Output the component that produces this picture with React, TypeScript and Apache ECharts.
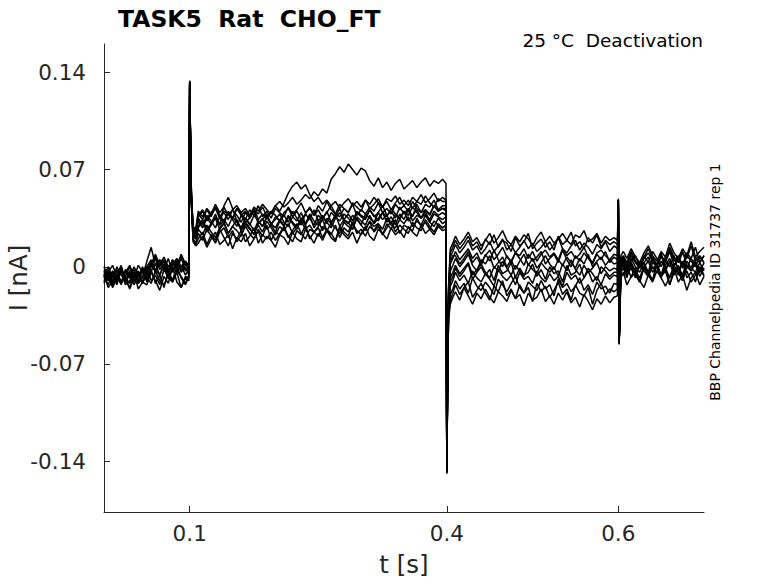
import React, { useEffect, useRef } from "react";
import * as echarts from "echarts";

// Sample times (ms) shared by all sweeps
const TIME_MS = [
  0, 5, 10, 15, 20, 25, 30, 35, 40, 45, 50, 55, 60, 65, 70, 75, 80, 85, 90, 95, 99,
  100, 101, 102, 104, 107,
  110, 115, 120, 125, 130, 135, 140, 145, 150, 155, 160, 165, 170, 175, 180, 185, 190, 195, 200, 205,
  210, 215, 220, 225, 230, 235, 240, 245, 250, 255, 260, 265, 270, 275, 280, 285, 290, 295, 300, 305,
  310, 315, 320, 325, 330, 335, 340, 345, 350, 355, 360, 365, 370, 375, 380, 385, 390, 395, 399,
  400, 401, 402, 404, 407,
  410, 415, 420, 425, 430, 435, 440, 445, 450, 455, 460, 465, 470, 475, 480, 485, 490, 495, 500, 505,
  510, 515, 520, 525, 530, 535, 540, 545, 550, 555, 560, 565, 570, 575, 580, 585, 590, 595, 599,
  600, 601, 603,
  606, 610, 615, 620, 625, 630, 635, 640, 645, 650, 655, 660, 665, 670, 675, 680, 685, 690, 695, 700,
];

// Current sweeps in pA
const SWEEP_1 = [
  -6, -15, -10, -2, -12, -7, -16, -8, -3, -11, -13, -4, -10, -17, -7, -12, 0, -11, -15, -8, -10,
  131, 82, 44, 18, 15,
  17, 22, 14, 20, 25, 16, 19, 23, 13, 21, 18, 24, 15, 20, 26, 17, 22, 19, 14, 23,
  21, 16, 25, 20, 18, 27, 22, 17, 24, 19, 26, 21, 18, 28, 23, 20, 25, 17, 24, 29,
  22, 19, 27, 24, 20, 28, 23, 26, 21, 29, 25, 22, 30, 24, 27, 23, 29, 26, 27,
  -148, -75, -38, -27, -22,
  -18, -24, -15, -21, -27, -19, -23, -16, -22, -26, -18, -21, -25, -17, -23, -20, -28, -19, -24, -22,
  -16, -25, -21, -27, -19, -24, -18, -26, -22, -29, -20, -25, -31, -23, -27, -21, -26, -22, -21,
  48, -55, -8,
  -4, -13, -7, -1, -10, -15, -6, -11, -3, -8, -14, -7, -1, -11, -6, -17, -8, -4, -13, -7,
];
const SWEEP_2 = [
  -11, -4, -13, -7, 0, -10, -15, -6, -11, -2, -8, -12, -3, -10, -13, -6, -11, -4, -15, -7, -8,
  133, 84, 46, 20, 17,
  24, 19, 27, 22, 17, 25, 28, 21, 26, 18, 23, 29, 24, 20, 27, 22, 30, 19, 25, 23,
  28, 21, 26, 31, 24, 20, 27, 25, 22, 29, 26, 23, 30, 21, 28, 25, 32, 24, 27, 22,
  29, 26, 31, 23, 28, 33, 25, 30, 27, 24, 32, 28, 26, 34, 29, 25, 31, 28, 30,
  -147, -73, -34, -20, -16,
  -10, -16, -12, -19, -8, -14, -17, -11, -15, -20, -9, -13, -18, -12, -7, -15, -19, -11, -14, -17,
  -10, -16, -13, -21, -9, -15, -12, -18, -14, -8, -17, -13, -20, -11, -16, -14, -19, -12, -13,
  47, -54, -4,
  -1, -8, 3, -6, -11, 0, -4, -10, 1, -7, -3, -13, -1, -6, 4, -8, -4, -11, 0, -6,
];
const SWEEP_3 = [
  -7, -2, -11, -6, -13, -3, -8, -4, -12, -7, 0, -10, -6, -13, -2, -8, -11, -3, -7, -12, -6,
  132, 86, 49, 23, 20,
  27, 23, 30, 25, 21, 28, 32, 24, 29, 26, 22, 31, 27, 24, 30, 25, 33, 28, 23, 29,
  26, 31, 24, 28, 33, 27, 30, 25, 29, 34, 26, 31, 28, 24, 32, 29, 27, 35, 30, 26,
  33, 29, 31, 27, 35, 30, 28, 34, 31, 36, 29, 33, 30, 37, 32, 29, 35, 31, 33,
  -148, -72, -31, -14, -10,
  -4, -10, -6, -12, -3, -8, -11, -5, -9, -14, -2, -7, -10, -6, -13, -4, -9, -7, -12, -3,
  -8, -11, -5, -10, -7, -14, -4, -9, -6, -12, -8, -3, -11, -7, -13, -5, -9, -6, -7,
  48, -55, -2,
  1, -6, -1, -8, 3, -3, -7, 0, -4, 4, -1, -8, 1, -4, -10, 0, -3, 3, -7, -1,
];
const SWEEP_4 = [
  -4, -10, -3, -7, -12, -2, -6, -11, -4, -8, 4, 14, 1, 5, -2, 6, -4, 2, 7, -3, 0,
  133, 88, 52, 26, 24,
  29, 34, 27, 31, 36, 30, 44, 50, 42, 33, 28, 35, 31, 26, 33, 29, 36, 31, 28, 34,
  30, 37, 32, 29, 35, 31, 38, 33, 30, 36, 32, 28, 35, 39, 33, 31, 37, 34, 30, 38,
  35, 32, 39, 34, 37, 31, 38, 35, 40, 33, 37, 41, 35, 38, 34, 40, 37, 39, 37,
  -149, -70, -28, -8, -4,
  1, -5, -1, 3, -6, -2, 2, -4, -8, 0, -3, 4, -1, -6, 1, -3, -7, 2, -2, -5,
  3, -1, -4, 0, -7, 2, -3, 5, -2, -6, 1, -4, -1, 3, -5, 0, -3, -1, -2,
  49, -56, 0,
  3, -4, 1, -7, 4, -1, -6, 3, 0, -8, 1, 6, -3, 0, -6, 4, -1, -4, 3, -3,
];
const SWEEP_5 = [
  -8, -3, -12, -6, 1, -10, -4, -13, -7, -2, -6, 2, -4, 5, 0, -7, 4, -3, 1, -6, -2,
  131, 85, 47, 24, 22,
  33, 28, 35, 31, 38, 30, 34, 29, 36, 32, 27, 35, 30, 37, 33, 29, 36, 31, 34, 38,
  32, 29, 36, 33, 39, 31, 35, 30, 37, 34, 40, 32, 36, 33, 38, 35, 31, 39, 36, 34,
  41, 37, 33, 39, 36, 42, 38, 34, 40, 37, 43, 39, 35, 41, 38, 44, 40, 42, 40,
  -148, -69, -25, -3, 1,
  6, 0, 4, 9, 1, -3, 5, 2, 8, -1, 3, 7, 0, 5, -2, 4, 9, 1, 6, -1,
  3, 8, 2, -2, 5, 1, 7, 3, -1, 6, 2, 9, 0, 4, 7, 1, 5, 2, 3,
  48, -55, 2,
  4, -3, 6, 0, -4, 3, 7, -1, 1, -6, 4, 0, 8, -3, 3, -1, 6, 1, -4, 3,
];
const SWEEP_6 = [
  -2, -7, -11, 0, -6, -10, -3, -8, 1, -4, -10, 0, 6, -2, 2, -4, 1, 5, -3, 4, 0,
  134, 87, 50, 27, 25,
  36, 40, 33, 38, 42, 35, 39, 34, 41, 37, 32, 39, 36, 42, 34, 38, 35, 40, 37, 33,
  39, 42, 36, 40, 34, 38, 43, 37, 41, 35, 39, 44, 38, 36, 42, 39, 45, 37, 41, 38,
  43, 40, 46, 39, 42, 38, 45, 41, 44, 40, 47, 42, 39, 45, 43, 48, 41, 44, 44,
  -147, -68, -22, 2, 6,
  11, 5, 9, 13, 6, 10, 3, 8, 12, 5, 9, 14, 7, 4, 10, 8, 13, 6, 11, 4,
  9, 12, 7, 10, 5, 13, 8, 11, 6, 9, 14, 7, 3, 10, 12, 8, 5, 9, 8,
  47, -54, 4,
  7, 1, 8, 3, -1, 6, 10, 4, 0, 7, 3, 11, 1, 6, -1, 8, 4, 0, 7, 3,
];
const SWEEP_7 = [
  -6, 0, -8, -3, -11, -4, 1, -7, -10, -2, 0, 5, -3, 2, 7, 0, 4, -2, 6, 1, 2,
  132, 86, 48, 25, 23,
  37, 41, 35, 39, 43, 36, 40, 38, 34, 42, 37, 40, 35, 41, 38, 43, 36, 39, 44, 40,
  46, 53, 58, 61, 56, 59, 52, 47, 50, 45, 48, 44, 47, 42, 46, 49, 44, 47, 43, 48,
  45, 50, 46, 43, 49, 47, 51, 45, 48, 44, 50, 47, 52, 46, 49, 53, 47, 50, 48,
  -146, -66, -18, 7, 11,
  16, 10, 14, 19, 12, 15, 9, 13, 18, 11, 15, 20, 12, 16, 10, 14, 19, 13, 17, 11,
  14, 18, 12, 16, 21, 13, 10, 15, 19, 12, 17, 14, 9, 16, 13, 18, 11, 15, 13,
  48, -54, 6,
  8, 3, 11, 4, 0, 7, 13, 6, 1, 8, 4, 14, 7, 3, 10, 6, 15, 4, 8, 3,
];
const SWEEP_8 = [
  -10, -4, 1, -7, -12, -3, -8, 0, -6, -11, -4, 1, 7, 0, 4, -3, 5, 0, 9, 2, -2,
  133, 89, 53, 29, 27,
  40, 36, 42, 38, 45, 39, 43, 37, 41, 44, 39, 42, 37, 43, 40, 45, 41, 38, 44, 47,
  43, 46, 50, 45, 48, 52, 49, 54, 51, 56, 53, 63, 67, 72, 68, 74, 70, 66, 71, 69,
  62, 58, 64, 57, 61, 55, 60, 63, 56, 59, 62, 57, 61, 64, 58, 62, 60, 63, 60,
  -145, -64, -14, 13, 17,
  22, 16, 20, 25, 18, 21, 15, 19, 24, 17, 21, 26, 19, 16, 22, 18, 23, 20, 15, 21,
  25, 18, 22, 17, 20, 24, 19, 16, 23, 21, 26, 18, 20, 24, 17, 22, 19, 21, 19,
  48, -55, 8,
  11, 6, 13, 7, 3, 10, 15, 8, 4, 11, 7, 17, 10, 6, 13, 8, 18, 7, 11, 14,
];
const SWEEP_9 = [
  -12, -6, -15, -8, -3, -13, -10, -4, -16, -11, -7, -2, -12, -6, -15, -3, -10, 1, -8, -13, -7,
  132, 83, 45, 19, 16,
  20, 25, 16, 23, 19, 27, 21, 15, 24, 20, 26, 18, 22, 28, 17, 23, 20, 25, 19, 24,
  29, 22, 18, 26, 23, 30, 20, 25, 28, 21, 27, 24, 19, 29, 25, 22, 31, 26, 23, 28,
  32, 25, 29, 23, 31, 27, 34, 24, 30, 28, 26, 35, 29, 32, 27, 33, 30, 28, 30,
  -148, -74, -36, -24, -19,
  -13, -20, -15, -11, -22, -17, -12, -19, -24, -14, -18, -10, -21, -16, -23, -13, -19, -15, -25, -12,
  -18, -14, -22, -17, -11, -20, -16, -24, -13, -19, -21, -15, -27, -17, -12, -20, -16, -18, -16,
  48, -55, -6,
  -6, 1, -8, -3, -11, 0, -4, -10, 3, -7, -1, -13, -4, 1, -8, -3, -11, -6, 0, -7,
];
const SWEEP_10 = [
  -3, -10, -6, -13, -2, -8, -12, -4, -7, 0, -11, -3, 2, -6, 1, -7, -2, 4, -4, 0, -6,
  133, 85, 48, 22, 20,
  28, 33, 25, 30, 35, 27, 31, 24, 29, 34, 26, 32, 28, 23, 31, 35, 27, 30, 25, 33,
  29, 36, 31, 27, 34, 30, 37, 28, 33, 26, 35, 31, 38, 29, 34, 32, 27, 36, 33, 30,
  37, 31, 35, 39, 32, 36, 30, 38, 34, 41, 33, 37, 35, 40, 32, 38, 36, 34, 36,
  -148, -71, -29, -11, -7,
  -1, -7, -3, 2, -9, -4, 0, -6, -2, -10, 1, -5, -3, 3, -8, -1, -6, -4, 2, -7,
  -2, -9, 0, -5, -3, -11, 1, -6, -4, 2, -8, -1, -5, -10, 0, -3, -7, -4, -4,
  48, -55, 1,
  6, -1, 4, 8, 0, 3, -4, 7, 1, 10, -3, 4, 0, 6, 11, 1, -1, 7, 3, 8,
];
const SWEEP_11 = [
  -7, -13, -4, -10, 0, -11, -6, -2, -12, -8, -3, 4, -2, -6, 2, -3, 5, -4, 1, -2, -3,
  132, 87, 50, 25, 23,
  35, 30, 37, 33, 28, 36, 31, 39, 34, 29, 37, 32, 35, 40, 31, 34, 38, 30, 36, 33,
  37, 32, 40, 35, 30, 38, 34, 41, 33, 37, 31, 39, 36, 42, 34, 38, 33, 40, 37, 35,
  41, 36, 39, 44, 37, 40, 35, 43, 38, 42, 36, 45, 39, 41, 37, 44, 40, 42, 42,
  -147, -67, -20, 4, 8,
  8, 2, 6, 11, 3, 7, 1, 9, 4, 12, 5, 0, 8, 3, 10, 6, 1, 9, 4, 7,
  11, 2, 6, 9, 3, 12, 5, 0, 8, 4, 10, 6, 2, 9, 5, 11, 3, 7, 5,
  47, -54, 1,
  1, -6, 3, -3, -8, 0, 4, -4, 1, -7, -1, 3, -6, 0, -10, 1, -3, 4, -4, -1,
];
const SWEEP_12 = [
  0, -8, -4, -11, -3, -7, 0, -10, -6, -12, -2, 2, 9, 1, 5, -2, 2, 6, 0, 4, 1,
  134, 88, 51, 27, 26,
  38, 34, 41, 36, 43, 37, 33, 40, 35, 42, 38, 34, 41, 37, 44, 36, 40, 35, 42, 39,
  36, 43, 38, 41, 46, 39, 42, 37, 44, 40, 47, 41, 38, 45, 42, 39, 46, 43, 40, 48,
  42, 45, 49, 43, 47, 41, 46, 50, 44, 48, 42, 47, 45, 51, 46, 43, 49, 47, 47,
  -146, -65, -16, 10, 14,
  19, 13, 17, 22, 15, 18, 12, 20, 16, 23, 14, 19, 17, 11, 21, 15, 18, 24, 13, 17,
  20, 14, 18, 12, 22, 16, 19, 25, 15, 18, 13, 21, 17, 23, 14, 19, 16, 18, 16,
  48, -55, 5,
  7, 1, 10, 4, -1, 8, 3, 11, 6, 0, 7, 13, 4, 8, 1, 10, 6, 14, 3, 8,
];

const SWEEPS = [
  SWEEP_1, SWEEP_2, SWEEP_3, SWEEP_4, SWEEP_5, SWEEP_6,
  SWEEP_7, SWEEP_8, SWEEP_9, SWEEP_10, SWEEP_11, SWEEP_12,
];

const X_TICKS = [0.1, 0.4, 0.6];
const Y_TICKS = [-0.14, -0.07, 0, 0.07, 0.14];

const TITLE = "TASK5  Rat  CHO_FT";
const SUBTITLE = "25 °C  Deactivation";
const SIDE_NOTE = "BBP Channelpedia ID 31737 rep 1";
const X_NAME = "t [s]";
const Y_NAME = "I [nA]";

const FONT = '"DejaVu Sans", "Liberation Sans", sans-serif';
const AXIS_COLOR = "#262626";

export default function App() {
  const ref = useRef<HTMLDivElement>(null);

  useEffect(() => {
    document.body.style.margin = "0";
    if (!ref.current) return;
    const chart = echarts.init(ref.current, null, { renderer: "svg" });

    const series = SWEEPS.map((sw, k) => ({
      type: "line",
      name: "sweep " + (k + 1),
      data: TIME_MS.map((t, i) => [t / 1000, sw[i] / 1000]),
      showSymbol: false,
      symbol: "none",
      lineStyle: { color: "#000000", width: 1.5 },
      emphasis: { disabled: true },
      silent: true,
    }));

    chart.setOption({
      animation: false,
      grid: { left: 104, right: 74, top: 44, bottom: 71, outerBoundsMode: "none" },
      xAxis: {
        type: "value",
        min: 0,
        max: 0.7,
        name: X_NAME,
        nameLocation: "middle",
        nameGap: 40,
        nameTextStyle: { fontFamily: FONT, fontSize: 24.5, color: AXIS_COLOR },
        axisLine: { show: true, onZero: false, lineStyle: { color: AXIS_COLOR, width: 1 } },
        axisTick: { show: true, inside: true, length: 6, customValues: X_TICKS, lineStyle: { color: AXIS_COLOR } },
        axisLabel: { customValues: X_TICKS, fontFamily: FONT, fontSize: 21.5, color: AXIS_COLOR, margin: 10 },
        splitLine: { show: false },
      },
      yAxis: {
        type: "value",
        min: -0.1766,
        max: 0.1604,
        axisLine: { show: true, onZero: false, lineStyle: { color: AXIS_COLOR, width: 1 } },
        axisTick: { show: true, inside: true, length: 6, customValues: Y_TICKS, lineStyle: { color: AXIS_COLOR } },
        axisLabel: { customValues: Y_TICKS, fontFamily: FONT, fontSize: 21.5, color: AXIS_COLOR, margin: 18 },
        splitLine: { show: false },
      },
      graphic: [
        {
          type: "text",
          x: 118,
          y: 18.5,
          style: { text: TITLE, font: "bold 23.5px " + FONT, fill: "#000", textAlign: "left", textVerticalAlign: "middle" },
        },
        {
          type: "text",
          x: 703,
          y: 40,
          style: { text: SUBTITLE, font: "18.5px " + FONT, fill: "#000", textAlign: "right", textVerticalAlign: "middle" },
        },
        {
          type: "text",
          x: 715,
          y: 282,
          rotation: Math.PI / 2,
          style: { text: SIDE_NOTE, font: "14px " + FONT, fill: "#000", textAlign: "center", textVerticalAlign: "middle" },
        },
        {
          type: "text",
          x: 18,
          y: 278,
          rotation: Math.PI / 2,
          style: { text: Y_NAME, font: "24.5px " + FONT, fill: AXIS_COLOR, textAlign: "center", textVerticalAlign: "middle" },
        },
      ],
      series,
    });

    return () => chart.dispose();
  }, []);

  return <div ref={ref} style={{ width: 778, height: 583 }} />;
}
